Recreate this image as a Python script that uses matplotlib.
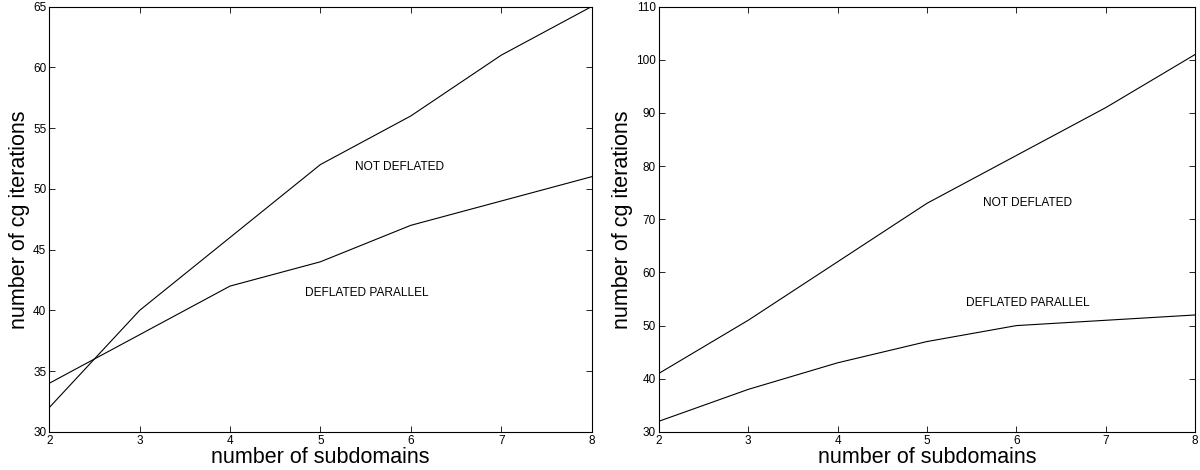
import matplotlib
matplotlib.use("Agg")
import matplotlib.pyplot as plt

plt.rcParams["font.family"] = ["Liberation Sans", "DejaVu Sans"]

subdomains = [2, 3, 4, 5, 6, 7, 8]

# left panel
left_not_deflated = [32, 40, 46, 52, 56, 61, 65]
left_deflated_parallel = [34, 38, 42, 44, 47, 49, 51]

# right panel
right_not_deflated = [41, 51, 62, 73, 82, 91, 101]
right_deflated_parallel = [32, 38, 43, 47, 50, 51, 52]


def style_axes(ax, ylim, yticks):
    ax.set_xlim(2, 8)
    ax.set_ylim(*ylim)
    ax.set_xticks(subdomains)
    ax.set_yticks(yticks)
    ax.tick_params(direction="in", top=True, right=True, labelsize=8.5,
                   length=4, width=0.6, pad=2)
    for s in ax.spines.values():
        s.set_linewidth(0.8)
    ax.set_xlabel("number of subdomains", fontsize=15.5, labelpad=0)
    ax.set_ylabel("number of cg iterations", fontsize=15.5, labelpad=2)


fig = plt.figure(figsize=(12, 4.7), dpi=100)
ax1 = fig.add_axes([0.041, 0.081, 0.452, 0.905])
ax2 = fig.add_axes([0.549, 0.081, 0.447, 0.905])

ax1.plot(subdomains, left_not_deflated, color="black", lw=0.8)
ax1.plot(subdomains, left_deflated_parallel, color="black", lw=0.8)
ax1.text(5.88, 51.8, "NOT DEFLATED", fontsize=8.6, ha="center", va="center")
ax1.text(5.51, 41.4, "DEFLATED PARALLEL", fontsize=8.6, ha="center", va="center")
style_axes(ax1, (30, 65), range(30, 66, 5))

ax2.plot(subdomains, right_not_deflated, color="black", lw=0.8)
ax2.plot(subdomains, right_deflated_parallel, color="black", lw=0.8)
ax2.text(6.13, 73.1, "NOT DEFLATED", fontsize=8.6, ha="center", va="center")
ax2.text(6.13, 54.3, "DEFLATED PARALLEL", fontsize=8.6, ha="center", va="center")
style_axes(ax2, (30, 110), range(30, 111, 10))

fig.savefig("out.png", dpi=100)
